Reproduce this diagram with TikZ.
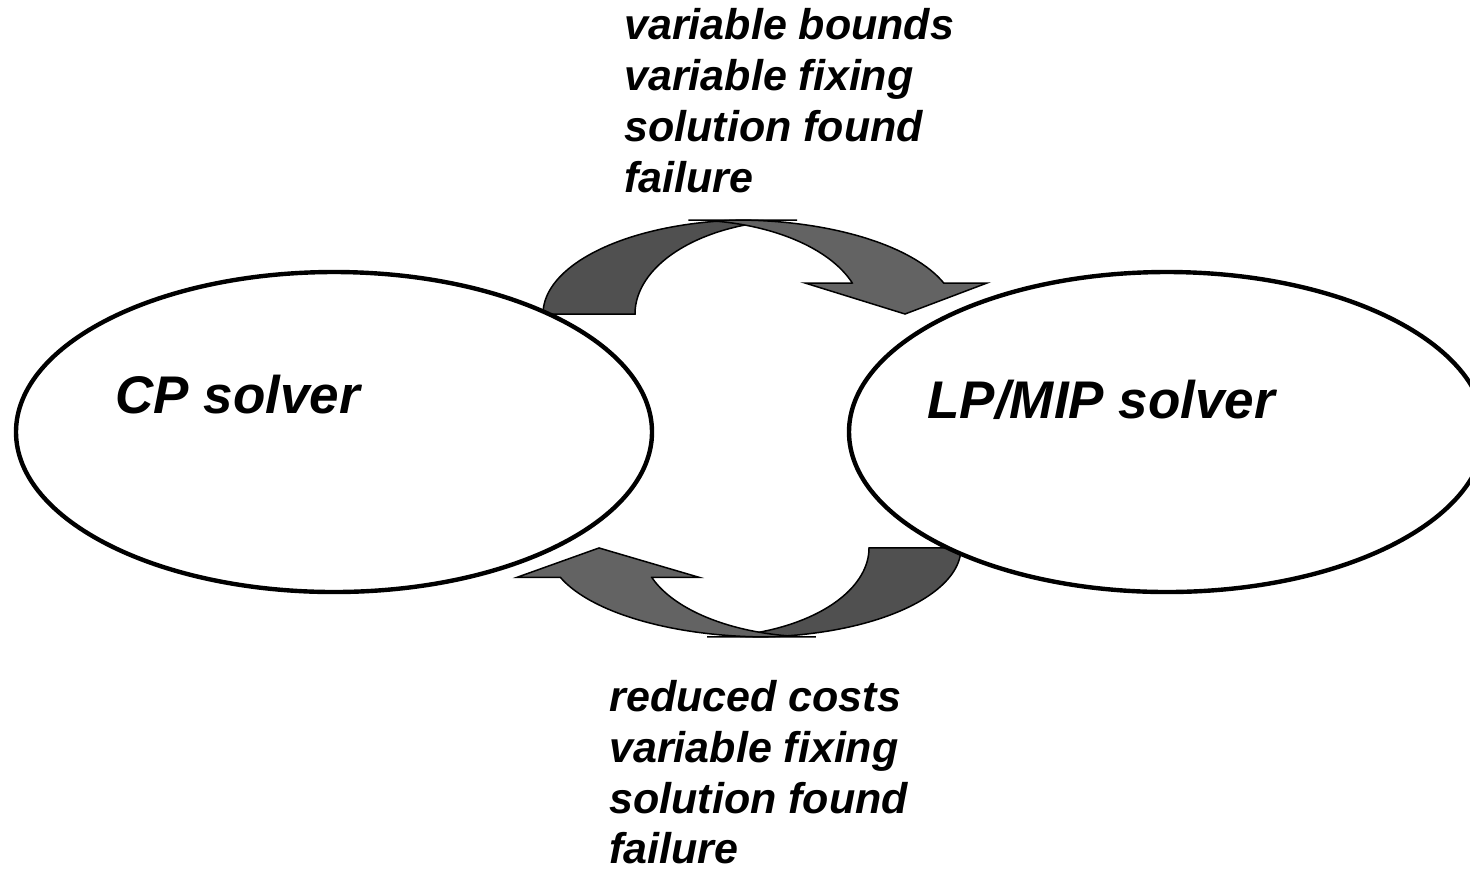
\documentclass[tikz,border=0pt]{standalone}
\usepackage{fontspec}
\newfontfamily\arialfam{Liberation Sans}
\usetikzlibrary{shapes.geometric}
\definecolor{arrowdark}{RGB}{80,80,80}
\definecolor{arrowlight}{RGB}{99,99,99}
\tikzset{
  arrowpiece/.style={draw=black,line width=0.75pt,line join=miter},
  solver/.style={ellipse,draw=black,fill=white,line width=2.2pt,minimum width=318pt,minimum height=160pt,inner sep=0pt},
  titletext/.style={font=\arialfam\bfseries\itshape\fontsize{26.5}{30}\selectfont,inner sep=0pt,anchor=base west},
  flowtext/.style={font=\arialfam\bfseries\itshape\fontsize{21.5}{25.5}\selectfont,inner sep=0pt,anchor=base west}
}
\newcommand\mycurvedarrow{%
  \filldraw[arrowpiece,fill=arrowdark] (543,314)
    -- plot[domain=180:90,samples=60] ({750+207*cos(\x)},{314-94*sin(\x)})
    -- (797,220)
    -- plot[domain=90:180,samples=60] ({797+162*cos(\x)},{314-94*sin(\x)})
    -- cycle;
  \filldraw[arrowpiece,fill=arrowlight] (689,220) -- (736,220)
    -- plot[domain=90:19.26,samples=60] ({736+220*cos(\x)},{314-94*sin(\x)})
    -- (987,283) -- (905,314) -- (805,283) -- (852.3,283)
    -- plot[domain=19.26:90,samples=60] ({689+173*cos(\x)},{314-94*sin(\x)})
    -- cycle;
}
\begin{document}
\begin{tikzpicture}[x=0.5pt,y=-0.5pt]
\clip (0,0) rectangle (1470,869);
\fill[white] (0,0) rectangle (1470,869);
% upper curved arrow (CP -> LP/MIP)
\mycurvedarrow
% lower curved arrow (LP/MIP -> CP)
\begin{scope}[shift={(1504,845.3)},xscale=-1,yscale=-0.947]
\mycurvedarrow
\end{scope}
% solvers
\node[solver] (cp) at (334,432) {};
\node[solver] (lp) at (1167,432) {};
\node[titletext] (cptext) at (115,413) {CP solver};
\node[titletext] (lptext) at (927,418) {LP/MIP solver};
% labels above
\node[flowtext] (top1) at (624,39) {variable bounds};
\node[flowtext] (top2) at (624,90) {variable fixing};
\node[flowtext] (top3) at (624,141) {solution found};
\node[flowtext] (top4) at (624,192) {failure};
% labels below
\node[flowtext] (bot1) at (609,711) {reduced costs};
\node[flowtext] (bot2) at (609,762) {variable fixing};
\node[flowtext] (bot3) at (609,813) {solution found};
\node[flowtext] (bot4) at (609,863) {failure};
\end{tikzpicture}
\end{document}
